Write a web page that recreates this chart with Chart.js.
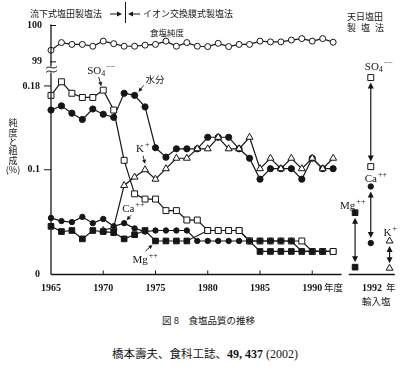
<!DOCTYPE html>
<html lang="ja">
<head>
    <meta charset="UTF-8">
    <title>食塩品質の推移</title>
    <style>
        body {
            margin: 0;
            background: #fff;
            width: 400px;
            height: 372px;
            position: relative;
            overflow: hidden;
            color: #161616;
        }
        #chartBox {
            position: absolute;
            left: 0;
            top: 0;
            width: 400px;
            height: 310px;
        }
        .caption {
            position: absolute;
            left: 162px;
            top: 313px;
            font: 9.5px/14px "Noto Sans CJK JP", sans-serif;
            white-space: nowrap;
        }
        .cite {
            position: absolute;
            left: 112px;
            top: 345px;
            font: 11.5px/16px "Noto Sans CJK JP", sans-serif;
            white-space: nowrap;
        }
        .cite .num {
            font-family: "Liberation Serif", serif;
            font-size: 12px;
        }
    </style>
</head>
<body>
    <div id="chartBox"><canvas id="saltChart" width="400" height="310"></canvas></div>
    <div class="caption">図 8　食塩品質の推移</div>
    <div class="cite">橋本壽夫、食科工誌、<span class="num"><b>49, 437</b> (2002)</span></div>

    <script src="https://cdn.jsdelivr.net/npm/chart.js"></script>
    <script>
        // years of the domestic series
        const years = [1965, 1966, 1967, 1968, 1969, 1970, 1971, 1972, 1973, 1974,
                       1975, 1976, 1977, 1978, 1979, 1980, 1981, 1982, 1983, 1984,
                       1985, 1986, 1987, 1988, 1989, 1990, 1991, 1992];

        // 食塩純度 (%)
        const purity = [99.32, 99.53, 99.48, 99.48, 99.43, 99.57, 99.50, 99.43, 99.43, 99.46,
                        99.48, 99.57, 99.43, 99.53, 99.43, 99.42, 99.51, 99.42, 99.48, 99.48,
                        99.57, 99.55, 99.55, 99.60, 99.64, 99.57, 99.64, 99.54];
        // SO4-- (%)
        const sulfate = [0.171, 0.184, 0.173, 0.169, 0.169, 0.176, 0.157, 0.109, 0.077, 0.072,
                         0.072, 0.061, 0.061, 0.052, 0.052, 0.042, 0.042, 0.042, 0.042, 0.032,
                         0.032, 0.032, 0.032, 0.032, 0.032, 0.022, 0.022, 0.022];
        // 水分 (%)
        const moisture = [0.157, 0.161, 0.154, 0.148, 0.158, 0.153, 0.150, 0.173, 0.171, 0.160,
                          0.121, 0.112, 0.120, 0.120, 0.120, 0.131, 0.131, 0.131, 0.120, 0.111,
                          0.091, 0.101, 0.101, 0.101, 0.091, 0.111, 0.101, 0.101];
        // K+ (%)
        const potassium = [null, null, null, null, null, 0.042, 0.045, 0.085, 0.093, 0.100,
                           0.091, 0.101, 0.111, 0.111, 0.120, 0.120, 0.131, 0.120, 0.120, 0.131,
                           0.101, 0.111, 0.101, 0.111, 0.101, 0.111, 0.101, 0.111];
        // Ca++ (%)
        const calcium = [0.054, 0.051, 0.050, 0.055, 0.049, 0.053, 0.046, 0.049, 0.044, 0.041,
                         0.042, 0.042, 0.042, 0.042, 0.032, 0.032, 0.032, 0.032, 0.032, 0.032,
                         0.032, 0.032, 0.032, 0.032, 0.022, 0.022, 0.022, null];
        // Mg++ (%)
        const magnesium = [0.046, 0.041, 0.042, 0.034, 0.042, 0.041, 0.040, 0.034, 0.038, 0.042,
                           0.032, 0.032, 0.032, 0.032, null, 0.042, 0.042, 0.042, 0.042, 0.032,
                           0.022, 0.022, 0.022, 0.022, 0.022, 0.022, 0.022, 0.022];

        // 1992 輸入塩 (imported sun-dried salt): [high, low]
        const importSO4 = [0.188, 0.103];
        const importCa = [0.084, 0.030];
        const importMg = [0.059, 0.007];
        const importK = [0.032, 0.006];

        // tick labels
        const xTicks = [1965, 1970, 1975, 1980, 1985, 1990];
        const lowerTicks = [0, 0.1, 0.18];
        const upperTicks = [99, 100];

        // horizontal placing of the 1992 import-salt columns on the x scale (layout only)
        const insetPos = { mg: 1994.1, so4: 1995.6, ca: 1995.6, k: 1997.4 };

        const INK = '#161616';
        const serif = '"Liberation Serif", serif';
        const gothic = '"Noto Sans CJK JP", sans-serif';

        function series(values) {
            return years.map((yr, i) => ({ x: yr, y: values[i] }));
        }
        function pair(pos, range) {
            return range.map(v => ({ x: pos, y: v }));
        }

        const common = {
            borderColor: INK,
            borderWidth: 1.2,
            pointBorderColor: INK,
            pointBorderWidth: 1,
            tension: 0,
            clip: false,
            yAxisID: 'y'
        };
        const styles = {
            so4: { pointStyle: 'rect', pointRadius: 4.2, pointBackgroundColor: '#fff' },
            moist: { pointStyle: 'circle', pointRadius: 3.1, pointBackgroundColor: INK },
            k: { pointStyle: 'triangle', pointRadius: 4, pointBackgroundColor: '#fff' },
            ca: { pointStyle: 'circle', pointRadius: 2.7, pointBackgroundColor: INK },
            mg: { pointStyle: 'rect', pointRadius: 4, pointBackgroundColor: INK }
        };

        // first dataset is drawn on top
        const datasets = [
            { ...common, ...styles.ca, label: 'Ca++', data: series(calcium) },
            { ...common, ...styles.so4, label: 'SO4--', data: series(sulfate) },
            { ...common, ...styles.mg, label: 'Mg++', data: series(magnesium), spanGaps: true },
            { ...common, ...styles.k, label: 'K+', data: series(potassium) },
            { ...common, ...styles.moist, label: '水分', data: series(moisture) },
            { ...common, label: '食塩純度', data: series(purity), yAxisID: 'yP',
              pointStyle: 'circle', pointRadius: 3, pointBackgroundColor: '#fff' },
            // 1992 imported salt
            { ...common, ...styles.so4, showLine: false, data: pair(insetPos.so4, importSO4) },
            { ...common, ...styles.ca, showLine: false, data: pair(insetPos.ca, importCa) },
            { ...common, ...styles.mg, showLine: false, data: pair(insetPos.mg, importMg) },
            { ...common, ...styles.k, showLine: false, data: pair(insetPos.k, importK) }
        ];

        function line(ctx, x1, y1, x2, y2) {
            ctx.beginPath();
            ctx.moveTo(x1, y1);
            ctx.lineTo(x2, y2);
            ctx.stroke();
        }

        function arrow(ctx, x1, y1, x2, y2, head, half) {
            const a = Math.atan2(y2 - y1, x2 - x1);
            const c = Math.cos(a), s = Math.sin(a);
            line(ctx, x1, y1, x2 - c * head * 0.7, y2 - s * head * 0.7);
            ctx.beginPath();
            ctx.moveTo(x2, y2);
            ctx.lineTo(x2 - head * c + half * s, y2 - head * s - half * c);
            ctx.lineTo(x2 - head * c - half * s, y2 - head * s + half * c);
            ctx.closePath();
            ctx.fill();
        }

        function ion(ctx, base, sub, sup, x, y) {
            ctx.textAlign = 'left';
            ctx.textBaseline = 'alphabetic';
            ctx.font = '11px ' + serif;
            ctx.fillText(base, x, y);
            let w = ctx.measureText(base).width;
            ctx.font = '8px ' + serif;
            if (sub) {
                ctx.fillText(sub, x + w, y + 2);
                w += ctx.measureText(sub).width;
            }
            if (sup) ctx.fillText(sup, x + w + 1, y - 5);
        }

        const decor = {
            id: 'decor',
            afterDatasetsDraw(chart) {
                const { ctx, chartArea: a, scales } = chart;
                const X = v => scales.x.getPixelForValue(v);
                const Y = v => scales.y.getPixelForValue(v);
                const YP = v => scales.yP.getPixelForValue(v);
                ctx.save();
                ctx.strokeStyle = INK;
                ctx.fillStyle = INK;
                ctx.lineWidth = 1.3;

                // axes
                line(ctx, a.left, a.top - 1, a.left, a.bottom);
                line(ctx, a.left, a.bottom, X(1992.8), a.bottom);
                line(ctx, X(1993.5), a.bottom, a.right, a.bottom);
                ctx.lineWidth = 1;
                xTicks.slice(1).forEach(v => line(ctx, X(v), a.bottom, X(v), a.bottom - 4));
                upperTicks.forEach(v => line(ctx, a.left - 1, YP(v), a.left + 5, YP(v)));
                lowerTicks.slice(1).forEach(v => line(ctx, a.left - 7, Y(v), a.left, Y(v)));

                // axis break
                const by = scales.y.top;
                ctx.fillStyle = '#fff';
                ctx.fillRect(a.left - 2, by - 3, 4, 6);
                ctx.fillStyle = INK;
                [-2, 2].forEach(d => {
                    ctx.beginPath();
                    ctx.moveTo(a.left - 5, by + d + 1);
                    ctx.bezierCurveTo(a.left - 2, by + d - 3, a.left + 2, by + d + 3, a.left + 6, by + d - 1);
                    ctx.stroke();
                });

                // header
                ctx.font = '9px ' + gothic;
                ctx.textBaseline = 'middle';
                ctx.textAlign = 'left';
                ctx.fillText('流下式塩田製塩法', 30, 14);
                ctx.fillText('イオン交換膜式製塩法', 143, 14);
                arrow(ctx, 110, 14, 122, 14, 5, 2.5);
                arrow(ctx, 140, 14, 128, 14, 5, 2.5);
                line(ctx, 125.5, 2, 125.5, 23);
                ctx.fillText('天日塩田', 347, 17);
                ['製', '塩', '法'].forEach((ch, i) => ctx.fillText(ch, 347 + i * 14, 28));

                // y title
                ctx.textAlign = 'center';
                ['純', '度', 'と', '組', '成'].forEach((ch, i) => ctx.fillText(ch, 13, 123 + i * 9.3));
                ctx.fillText('(%)', 13, 170);

                // labels in the plot
                ctx.font = '8.5px ' + gothic;
                ctx.textAlign = 'left';
                ctx.fillText('食塩純度', 150, 33);

                ctx.lineWidth = 0.9;
                let p = { x: X(1970), y: Y(sulfate[5]) };
                ion(ctx, 'SO', '4', '−−', p.x - 16, p.y - 16);
                arrow(ctx, p.x - 4.5, p.y - 13, p.x - 2, p.y - 4, 4, 2);

                p = { x: X(1973), y: Y(moisture[8]) };
                ctx.font = '9.5px ' + gothic;
                ctx.textBaseline = 'middle';
                ctx.fillText('水分', p.x + 11, p.y - 16);
                arrow(ctx, p.x + 9, p.y - 10, p.x + 4, p.y - 3.5, 4, 2);

                p = { x: X(1974), y: Y(potassium[9]) };
                ion(ctx, 'K', '', '+', p.x - 9, p.y - 18);
                arrow(ctx, p.x - 2, p.y - 14, p.x, p.y - 6, 4, 2);

                p = { x: X(1972), y: Y(calcium[7]) };
                ion(ctx, 'Ca', '', '++', p.x - 2, p.y - 11);
                arrow(ctx, p.x + 7, p.y - 8, p.x + 2.5, p.y - 3, 4, 2);

                p = { x: X(1975), y: Y(magnesium[10]) };
                ion(ctx, 'Mg', '', '++', p.x - 23, p.y + 22);
                arrow(ctx, p.x - 10, p.y + 10, p.x - 3, p.y + 4, 4, 2);

                // 1992 imported salt
                ion(ctx, 'SO', '4', '−−', X(insetPos.so4) - 6, Y(importSO4[0]) - 7.5);
                ion(ctx, 'Ca', '', '++', X(insetPos.ca) - 6, Y(importCa[0]) - 5);
                ion(ctx, 'Mg', '', '++', X(insetPos.mg) - 15, Y(importMg[0]) - 4);
                ion(ctx, 'K', '', '+', X(insetPos.k) - 6, Y(importK[0]) - 5);

                ctx.lineWidth = 1.2;
                [[insetPos.so4, importSO4], [insetPos.ca, importCa],
                 [insetPos.mg, importMg], [insetPos.k, importK]].forEach(([pos, r]) => {
                    const x = X(pos), y1 = Y(r[0]) + 5, y2 = Y(r[1]) - 5;
                    line(ctx, x, y1 + 4, x, y2 - 4);
                    arrow(ctx, x, y1 + 6, x, y1, 6, 3);
                    arrow(ctx, x, y2 - 6, x, y2, 6, 3);
                });

                // bottom texts
                ctx.textBaseline = 'middle';
                ctx.textAlign = 'left';
                ctx.font = '9.5px ' + gothic;
                ctx.fillText('年度', 324, 287.5);
                ctx.fillText('年', 386, 287.5);
                ctx.fillText('輸入塩', 362, 301);
                ctx.font = 'bold 10px ' + serif;
                ctx.fillText('1992', 362, 288);
                ctx.restore();
            }
        };

        new Chart(document.getElementById('saltChart'), {
            type: 'line',
            data: { datasets: datasets },
            options: {
                responsive: false,
                animation: false,
                events: [],
                layout: { padding: { top: 25.5, right: 2, bottom: 0, left: 0 } },
                plugins: {
                    legend: { display: false },
                    tooltip: { enabled: false }
                },
                scales: {
                    x: {
                        type: 'linear',
                        min: 1965,
                        max: 1997.9,
                        afterBuildTicks: s => { s.ticks = xTicks.map(v => ({ value: v })); },
                        afterFit: s => { s.height = 35.5; },
                        grid: { display: false, drawTicks: false },
                        border: { display: false },
                        ticks: {
                            autoSkip: false,
                            maxRotation: 0,
                            padding: 8,
                            color: INK,
                            font: { family: serif, size: 10, weight: 'bold' },
                            callback: v => String(v)
                        }
                    },
                    y: {
                        type: 'linear',
                        position: 'left',
                        stack: 'v',
                        stackWeight: 205,
                        min: 0,
                        max: 0.1957,
                        afterBuildTicks: s => { s.ticks = lowerTicks.map(v => ({ value: v })); },
                        afterFit: s => { s.width = 51; },
                        grid: { display: false, drawTicks: false },
                        border: { display: false },
                        ticks: {
                            padding: 11,
                            color: INK,
                            font: { family: serif, size: 10, weight: 'bold' },
                            callback: v => String(v)
                        }
                    },
                    yP: {
                        type: 'linear',
                        position: 'left',
                        stack: 'v',
                        stackWeight: 44,
                        min: 98.79,
                        max: 100,
                        afterBuildTicks: s => { s.ticks = upperTicks.map(v => ({ value: v })); },
                        afterFit: s => { s.width = 51; },
                        grid: { display: false, drawTicks: false },
                        border: { display: false },
                        ticks: {
                            padding: 9,
                            color: INK,
                            font: { family: serif, size: 10, weight: 'bold' },
                            callback: v => String(v)
                        }
                    }
                }
            },
            plugins: [decor]
        });
    </script>
</body>
</html>
